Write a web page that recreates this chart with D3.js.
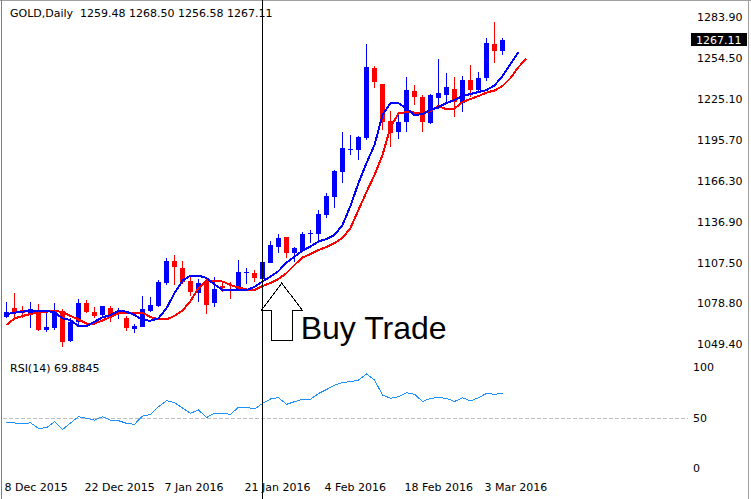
<!DOCTYPE html>
<html><head><meta charset="utf-8">
<script src="https://cdn.jsdelivr.net/npm/d3@7/dist/d3.min.js"></script>
<style>html,body{margin:0;padding:0;background:#fff;overflow:hidden}svg{display:block}</style>
</head><body>
<script>
// ---------- DATA ----------
const dates = ["8 Dec 2015","9 Dec","10 Dec","11 Dec","14 Dec","15 Dec","16 Dec","17 Dec","18 Dec","21 Dec",
"22 Dec 2015","23 Dec","24 Dec","28 Dec","29 Dec","30 Dec","31 Dec","4 Jan","5 Jan","6 Jan",
"7 Jan 2016","8 Jan","11 Jan","12 Jan","13 Jan","14 Jan","15 Jan","18 Jan","19 Jan","20 Jan",
"21 Jan 2016","22 Jan","25 Jan","26 Jan","27 Jan","28 Jan","29 Jan","1 Feb","2 Feb","3 Feb",
"4 Feb 2016","5 Feb","8 Feb","9 Feb","10 Feb","11 Feb","12 Feb","15 Feb","16 Feb","17 Feb",
"18 Feb 2016","19 Feb","22 Feb","23 Feb","24 Feb","25 Feb","26 Feb","29 Feb","1 Mar","2 Mar",
"3 Mar 2016","4 Mar","7 Mar"];
const dateTickIdx = [0,10,20,30,40,50,60];
const open  = [1069.0,1075.0,1073.8,1071.4,1072.4,1059.4,1060.7,1073.1,1051.8,1065.4,
1079.0,1072.6,1070.2,1075.0,1071.8,1068.3,1059.9,1061.8,1073.1,1077.0,
1092.9,1109.1,1103.7,1094.8,1086.0,1094.1,1079.0,1091.0,1088.8,1088.8,
1100.1,1100.5,1096.0,1107.7,1119.2,1125.8,1114.9,1116.3,1128.5,1128.6,
1141.9,1155.0,1173.0,1188.7,1188.5,1196.9,1247.3,1235.6,1209.3,1201.1,
1208.8,1230.8,1226.3,1207.9,1225.5,1227.9,1232.0,1222.2,1238.7,1231.5,
1240.1,1264.5,1259.48];
const high  = [1079.7,1085.8,1076.7,1079.7,1078.1,1072.6,1079.0,1074.5,1067.8,1081.5,
1081.0,1076.2,1077.0,1076.7,1075.0,1069.5,1063.7,1083.8,1082.9,1095.3,
1110.9,1113.2,1108.9,1099.2,1096.0,1096.5,1097.7,1093.9,1093.9,1109.6,
1103.9,1102.5,1108.4,1123.6,1128.1,1126.0,1119.2,1129.5,1131.1,1145.5,
1157.9,1174.2,1201.6,1199.3,1198.8,1264.3,1248.7,1235.8,1216.8,1214.8,
1240.6,1235.1,1227.9,1228.7,1253.8,1243.7,1240.9,1241.6,1249.5,1244.4,
1268.6,1280.5,1268.50];
const low   = [1067.8,1067.3,1068.0,1060.9,1058.4,1058.2,1059.4,1047.5,1051.1,1063.0,
1071.4,1067.8,1069.5,1065.4,1067.1,1058.9,1057.5,1061.4,1072.6,1076.2,
1091.7,1091.7,1092.4,1083.8,1079.5,1071.1,1076.2,1086.7,1081.7,1087.4,
1092.4,1094.1,1094.9,1107.3,1114.9,1111.4,1108.4,1115.7,1121.6,1124.0,
1139.5,1146.9,1164.6,1184.9,1181.3,1196.0,1232.8,1202.6,1190.9,1196.4,
1201.1,1220.8,1201.6,1207.2,1217.9,1222.0,1212.2,1216.1,1226.5,1229.9,
1238.3,1250.7,1256.58];
const close = [1072.6,1071.8,1071.6,1074.5,1059.1,1061.4,1072.6,1051.1,1065.4,1078.6,
1072.6,1069.5,1076.6,1070.2,1072.6,1061.1,1062.3,1074.3,1077.4,1093.9,
1109.1,1104.4,1094.1,1086.5,1092.9,1077.4,1088.6,1089.6,1087.4,1100.7,
1100.8,1096.9,1108.0,1120.2,1125.4,1114.9,1118.0,1128.3,1129.0,1142.6,
1155.5,1173.5,1189.7,1189.2,1198.0,1248.0,1237.5,1208.9,1200.5,1208.6,
1231.5,1226.7,1208.8,1227.9,1229.1,1233.7,1222.6,1238.7,1231.5,1240.1,
1265.2,1259.5,1267.11];
// fast moving average (blue), shifted 2 bars forward
const maBlue = [1070.9,1071.8,1072.6,1073.1,1073.1,1073.1,1072.1,1067.8,1066.6,1062.3,
1062.3,1065.4,1068.5,1070.2,1073.1,1072.6,1070.2,1066.6,1066.1,1067.8,
1075.0,1085.8,1094.8,1098.5,1098.5,1096.7,1092.1,1088.1,1087.8,1087.8,
1088.1,1090.3,1094.2,1097.8,1101.7,1107.8,1112.1,1116.4,1119.3,1122.9,
1124.7,1127.6,1134.7,1148.4,1164.9,1179.2,1192.1,1213.6,1222.2,1222.2,
1218.3,1213.6,1214.3,1217.2,1219.3,1222.2,1224.4,1227.2,1228.7,1230.1,
1231.5,1234.8,1241.6,1250.2,1258.8];
// slow moving average (red), shifted 3 bars forward
const maRed = [1063.0,1067.7,1069.5,1070.9,1072.0,1072.6,1073.1,1072.4,1069.5,1067.0,
1064.1,1064.1,1066.3,1068.8,1071.3,1071.8,1071.8,1071.8,1068.8,1067.0,
1067.0,1069.5,1073.4,1080.2,1089.6,1094.6,1094.8,1094.2,1091.7,1089.9,
1088.5,1088.1,1091.0,1093.1,1096.0,1100.3,1106.1,1111.4,1113.9,1116.8,
1119.0,1121.8,1125.4,1132.6,1145.5,1158.4,1170.6,1184.9,1205.0,1214.7,
1215.8,1215.4,1214.7,1216.5,1220.1,1217.6,1218.3,1222.9,1225.1,1227.2,
1229.7,1231.2,1234.4,1240.1,1248.0,1254.1];
const rsi = [46.1,45.5,44.7,45.7,41.0,41.6,46.5,40.1,45.5,50.7,
49.3,47.9,50.7,47.9,47.4,45.2,44.4,51.2,52.5,58.9,
63.8,62.3,57.8,53.5,56.2,50.0,53.5,53.5,52.6,58.4,
58.4,57.0,61.5,65.2,66.3,60.8,63.0,65.0,65.0,69.7,
73.0,76.5,78.8,79.4,80.8,85.7,80.8,68.5,65.8,67.1,
70.4,69.1,63.1,65.8,66.3,65.8,63.1,66.3,63.6,66.3,
69.7,69.1,69.9];
const priceTicks = [1283.90,1254.50,1225.10,1195.70,1166.30,1136.90,1107.50,1078.80,1049.40];
const rsiTicks = [100,50,0];
const rsiLevel = 50;
const header = "GOLD,Daily  1259.48 1268.50 1256.58 1267.11";
const rsiLabel = "RSI(14) 69.8845";
const lastPrice = 1267.11;
const markerBar = 32;
const note = {bar:34.4, price:1093.1, text:"Buy Trade"};

// ---------- DRAW ----------
const W=751,H=499;
const svg=d3.select("body").append("svg").attr("width",W).attr("height",H);
const font="DejaVu Sans, Tahoma, sans-serif";
const x=d3.scaleLinear().domain([0,62]).range([6.5,502.5]);
const y=d3.scaleLinear().domain([1049.4,1283.9]).range([344,17]);
const ry=d3.scaleLinear().domain([0,100]).range([478.35,356.65]);
const plotRight=688;

// borders
svg.append("line").attr("x1",0).attr("x2",W).attr("y1",0.5).attr("y2",0.5).attr("stroke","#a0a0a0");
svg.append("line").attr("x1",1.5).attr("x2",1.5).attr("y1",0).attr("y2",H).attr("stroke","#808080");
svg.append("line").attr("x1",748.5).attr("x2",748.5).attr("y1",0).attr("y2",H).attr("stroke","#a0a0a0");

// RSI level dashed
svg.append("line").attr("x1",3).attr("x2",plotRight).attr("y1",Math.round(ry(rsiLevel))+0.5).attr("y2",Math.round(ry(rsiLevel))+0.5)
  .attr("stroke","#c0c0c0").attr("stroke-dasharray","4,2");

// candles
const bars=d3.range(open.length).map(i=>({i,o:open[i],h:high[i],l:low[i],c:close[i]}));
const g=svg.append("g");
bars.forEach(b=>{
  const cx=x(b.i), col=b.c>=b.o?"#0000ff":"#ff0000";
  g.append("rect").attr("x",cx-0.5).attr("width",1).attr("y",Math.round(y(b.h))).attr("height",Math.max(1,Math.round(y(b.l))-Math.round(y(b.h)))).attr("fill",col);
  const t=Math.round(y(Math.max(b.o,b.c))), bt=Math.round(y(Math.min(b.o,b.c)));
  g.append("rect").attr("x",cx-2.5).attr("width",5).attr("y",t).attr("height",Math.max(1,bt-t)).attr("fill",col);
});

// moving averages
const line=d3.line().x((d,i)=>x(i)).y(d=>y(d));
svg.append("path").datum(maRed).attr("d",line).attr("fill","none").attr("stroke","#ff0000").attr("stroke-width",2).attr("shape-rendering","crispEdges");
svg.append("path").datum(maBlue).attr("d",line).attr("fill","none").attr("stroke","#0000ff").attr("stroke-width",2).attr("shape-rendering","crispEdges");

// RSI
const rline=d3.line().x((d,i)=>x(i)).y(d=>ry(d));
svg.append("path").datum(rsi).attr("d",rline).attr("fill","none").attr("stroke","#1e90ff").attr("stroke-width",1).attr("shape-rendering","crispEdges");

// vertical marker line
svg.append("line").attr("x1",Math.floor(x(markerBar))+0.5).attr("x2",Math.floor(x(markerBar))+0.5).attr("y1",0).attr("y2",H).attr("stroke","#000");

// annotation arrow
const ax=x(note.bar), ay=y(note.price);
const pts=[[0,0],[20.5,27],[10.5,27],[10.5,57],[-10,57],[-10,27],[-20,27]].map(p=>[ax+p[0],ay+p[1]]);
svg.append("polygon").attr("points",pts.map(p=>p.join(",")).join(" ")).attr("fill","#fff").attr("stroke","#000").attr("stroke-width",1).attr("shape-rendering","crispEdges");
svg.append("text").attr("x",ax+19).attr("y",ay+56).attr("font-family","Liberation Sans, Arial, sans-serif").attr("font-size",32).attr("fill","#000").text(note.text);

// price axis labels
svg.selectAll(".pt").data(priceTicks).enter().append("text").attr("x",697).attr("y",d=>y(d)+4)
  .attr("font-family",font).attr("font-size",11).attr("fill","#000").text(d=>d.toFixed(2));
// last price box
svg.append("rect").attr("x",691).attr("y",Math.round(y(lastPrice))-7).attr("width",56).attr("height",13).attr("fill","#000");
svg.append("text").attr("x",696).attr("y",Math.round(y(lastPrice))+4).attr("font-family",font).attr("font-size",11).attr("fill","#fff").text(lastPrice.toFixed(2));

// rsi labels
svg.selectAll(".rt").data(rsiTicks).enter().append("text").attr("x",693)
  .attr("y",d=>Math.min(Math.max(ry(d),366.7),467.7)+4)
  .attr("font-family",font).attr("font-size",11).attr("fill","#000").text(d=>d);

// date labels
svg.selectAll(".dt").data(dateTickIdx).enter().append("text").attr("x",d=>x(d)-2).attr("y",491)
  .attr("font-family",font).attr("font-size",11).attr("fill","#000").text(d=>dates[d]);

// header texts
svg.append("text").attr("x",10).attr("y",17).attr("font-family",font).attr("font-size",11).attr("fill","#000").style("white-space","pre").text(header);
svg.append("text").attr("x",10).attr("y",372).attr("font-family",font).attr("font-size",11).attr("fill","#000").text(rsiLabel);
</script>
</body></html>
